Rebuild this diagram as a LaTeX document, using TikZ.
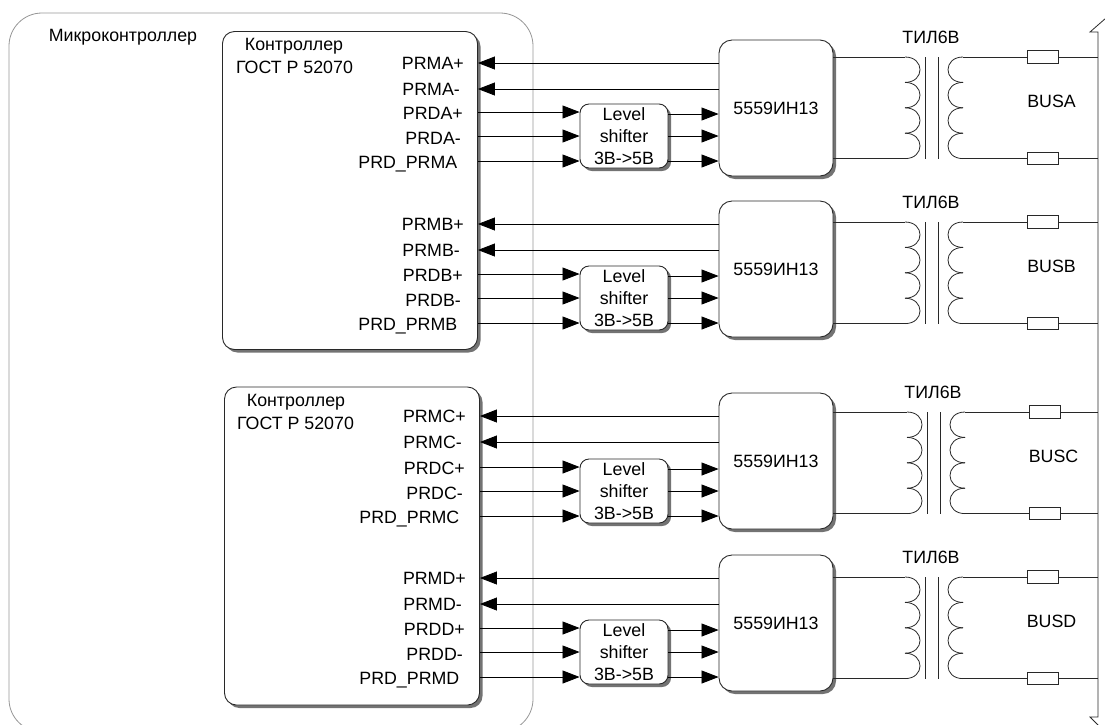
\documentclass[tikz,border=0pt]{standalone}
\usepackage{fontspec}
\setmainfont{Liberation Sans}
\usetikzlibrary{arrows.meta, shadows}
\definecolor{framegray}{RGB}{150,150,150}
\definecolor{wiregray}{RGB}{40,40,40}

\begin{document}
\begin{tikzpicture}[x=1pt, y=-1pt, every node/.style={font=\fontsize{17.8}{22}\selectfont}]
    \tikzset{shadowbox/.style={rectangle, draw=wiregray, fill=white, line width=0.9pt, align=center, inner sep=0pt,
                          drop shadow={shadow xshift=3pt, shadow yshift=-3pt, fill=black, opacity=0.55}},
             ctrlbox/.style={shadowbox, rounded corners=12pt, minimum width=255pt, minimum height=318pt},
             icbox/.style={shadowbox, rounded corners=13pt, minimum width=114pt, minimum height=136pt},
             shifterbox/.style={shadowbox, rounded corners=9pt, minimum width=88pt, minimum height=64pt},
             resbox/.style={rectangle, draw=wiregray, fill=white, line width=0.9pt, inner sep=0pt,
                          minimum width=31pt, minimum height=12.5pt},
             sigline/.style={-{Triangle[length=17pt, width=13pt]}, black, line width=0.8pt},
             wire/.style={wiregray, line width=0.8pt},
             portlabel/.style={anchor=east, inner sep=0pt},
             plainlabel/.style={inner sep=0pt, align=center}}
    \useasboundingbox (0,0) rectangle (1105,724);
    \clip (0,0) rectangle (1105,724);
    % outer frame and bus
    \node[rectangle, draw=framegray, rounded corners=33pt, line width=0.8pt, minimum width=524pt, minimum height=719pt] (mcu) at (271,372.5) {};
    \node[plainlabel] (mcutitle) at (123,37) {Микроконтроллер};
    \draw[wire] (1106,18) -- (1090,32) -- (1098,32) -- (1098,717) -- (1090,717) -- (1100,727);
    \coordinate (bus) at (1098,32);
    % controllers
    \node[ctrlbox] (ctrlA) at (350,190.5) {};
    \node[ctrlbox] (ctrlC) at (352,546) {};
    \node[plainlabel] (titleA) at (294,46) {Контроллер};
    \node[plainlabel] (gostA) at (294.5,67) {ГОСТ Р 52070};
    \node[plainlabel] (titleC) at (296,402) {Контроллер};
    \node[plainlabel] (gostC) at (295.5,423) {ГОСТ Р 52070};
    % channels: letter / controller / top of ic / top of shifter / top of winding / coil shift / label shift
    \foreach \ch/\ctl/\yi/\ys/\yt/\xc/\xl in {A/ctrlA/40/104/57/0/0, B/ctrlA/201/266/222/0/0,
                                             C/ctrlC/393/459/412/2/2, D/ctrlC/555/620/577/0/2} {
      \node[icbox] (ic\ch) at (776,\yi+68) {5559ИН13};
      \node[shifterbox] (ls\ch) at (624,\ys+32) {Level\\shifter\\3В->5В};
      \node[portlabel] (prmp\ch) at (464+\xl,\yi+23) {PRM\ch+};
      \node[portlabel] (prmm\ch) at (460+\xl,\yi+49) {PRM\ch-};
      \node[portlabel] (prdp\ch) at (463+\xl,\ys+9) {PRD\ch+};
      \node[portlabel] (prdm\ch) at (461+\xl,\ys+34) {PRD\ch-};
      \node[portlabel] (prd\ch) at (457.5+\xl,\ys+60) {PRD\_PRM\ch};
      \foreach \dy in {23,49}
        \draw[sigline] (ic\ch.west |- 0,\yi+\dy) -- (\ctl.east |- 0,\yi+\dy);
      \foreach \dy in {8,32,57}
        \draw[sigline] (\ctl.east |- 0,\ys+\dy) -- (ls\ch.west |- 0,\ys+\dy);
      \foreach \dy in {10,32,57}
        \draw[sigline] (ls\ch.east |- 0,\ys+\dy) -- (ic\ch.west |- 0,\ys+\dy);
      % transformer
      \node[plainlabel] (tr\ch) at (931+\xc,\yt-20) {ТИЛ6В};
      \coordinate (pa\ch) at (905+\xc,\yt);
      \coordinate (pb\ch) at (905+\xc,\yt+101.5);
      \coordinate (sa\ch) at (963+\xc,\yt);
      \coordinate (sb\ch) at (963+\xc,\yt+101.5);
      \foreach \k in {0,1,2,3} {
        \draw[wire] (905+\xc,\yt+25.4*\k) .. controls (925+\xc,\yt+25.4*\k) and (925+\xc,\yt+25.4*\k+25.4) .. (905+\xc,\yt+25.4*\k+25.4);
        \draw[wire] (963+\xc,\yt+25.4*\k) .. controls (943+\xc,\yt+25.4*\k) and (943+\xc,\yt+25.4*\k+25.4) .. (963+\xc,\yt+25.4*\k+25.4);
      }
      \draw[wire] (925.5+\xc,\yt) -- (925.5+\xc,\yt+101.5);
      \draw[wire] (938+\xc,\yt) -- (938+\xc,\yt+101.5);
      \node[resbox] (ra\ch) at (1042.5+\xc,\yt) {};
      \node[resbox] (rb\ch) at (1042.5+\xc,\yt+101.5) {};
      \node[plainlabel] (name\ch) at (1051.5+\xc,\yt+44) {BUS\ch};
      \draw[wire] (ic\ch.east |- pa\ch) -- (pa\ch);
      \draw[wire] (ic\ch.east |- pb\ch) -- (pb\ch);
      \foreach \a in {a,b} {
        \draw[wire] (s\a\ch) -- (r\a\ch);
        \draw[wire] (r\a\ch) -- (bus |- r\a\ch);
      }
    }
\end{tikzpicture}
\end{document}
